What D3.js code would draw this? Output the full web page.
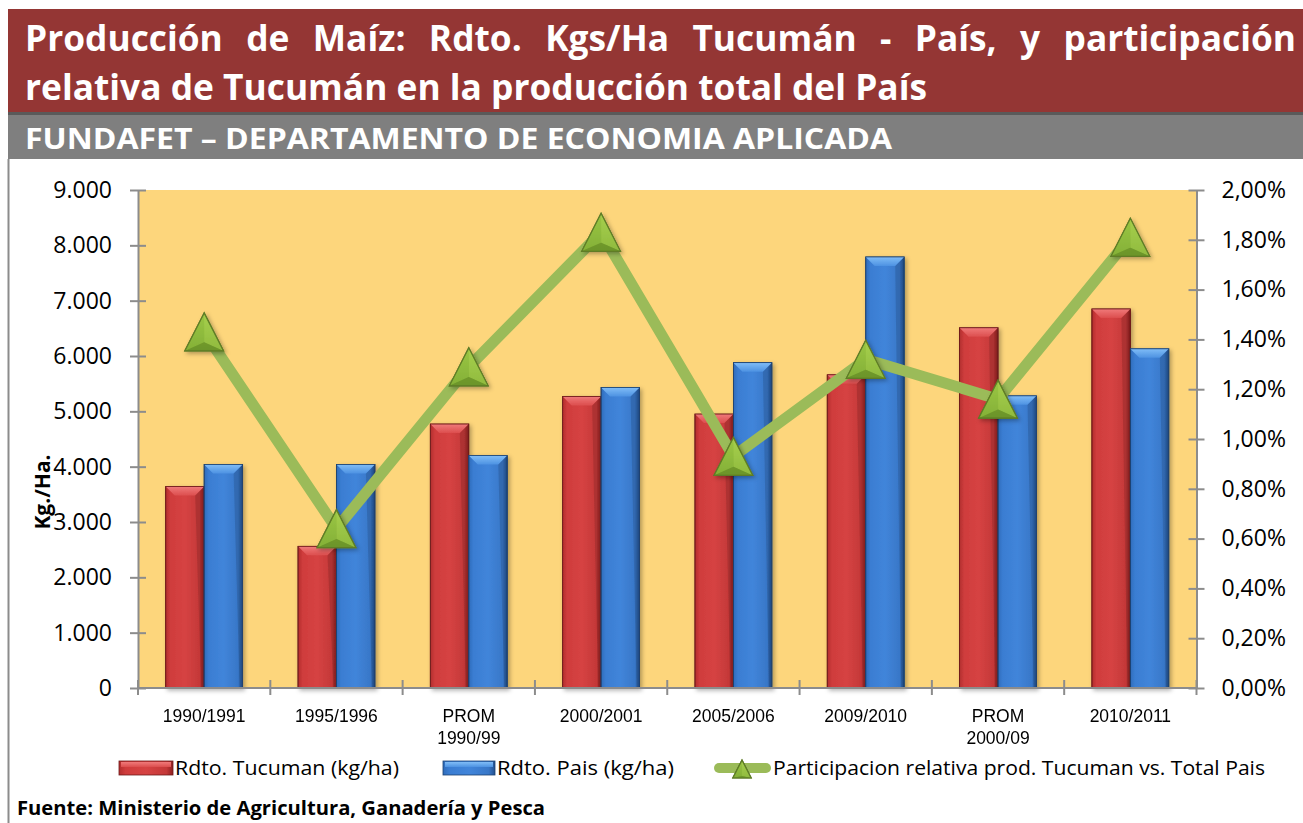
<!DOCTYPE html>
<html>
<head>
<meta charset="utf-8">
<script src="https://cdn.jsdelivr.net/npm/d3@7"></script>
<style>
  body { margin: 0; background: #fff; }
  svg { display: block; font-family: "Open Sans", "Noto Sans", sans-serif; }
</style>
</head>
<body>
<svg id="chart" width="1303" height="823"></svg>
<script>
// categories and values
var categories = ["1990/1991", "1995/1996", "PROM 1990/99", "2000/2001", "2005/2006", "2009/2010", "PROM 2000/09", "2010/2011"];
var rdtoTucuman = [3640, 2560, 4770, 5270, 4950, 5660, 6510, 6850];
var rdtoPais = [4040, 4040, 4200, 5430, 5880, 7790, 5280, 6130];
var participacion = [1.43, 0.64, 1.29, 1.83, 0.93, 1.32, 1.16, 1.81]; // percent
var leftTicks = [0, 1000, 2000, 3000, 4000, 5000, 6000, 7000, 8000, 9000];
var rightTicks = [0, 0.2, 0.4, 0.6, 0.8, 1.0, 1.2, 1.4, 1.6, 1.8, 2.0];
var seriesNames = ["Rdto. Tucuman (kg/ha)", "Rdto. Pais (kg/ha)", "Participacion relativa prod. Tucuman vs. Total Pais"];

var titleLine1 = "Producción de Maíz: Rdto. Kgs/Ha Tucumán - País, y participación";
var titleLine2 = "relativa de Tucumán en la producción total del País";
var subtitle = "FUNDAFET – DEPARTAMENTO DE ECONOMIA APLICADA";
var source = "Fuente: Ministerio de Agricultura, Ganadería y Pesca";

var esAR = d3.formatLocale({decimal: ",", thousands: ".", grouping: [3], currency: ["$", ""]});
var fmtKg = esAR.format(",d");
var fmtPct = esAR.format(".2f");

var svg = d3.select("#chart");
var defs = svg.append("defs");

function hGrad(id, stops) {
  var g = defs.append("linearGradient").attr("id", id).attr("x1", 0).attr("x2", 1).attr("y1", 0).attr("y2", 0);
  stops.forEach(function(s){ g.append("stop").attr("offset", s[0]).attr("stop-color", s[1]); });
}
function vGrad(id, stops) {
  var g = defs.append("linearGradient").attr("id", id).attr("x1", 0).attr("x2", 0).attr("y1", 0).attr("y2", 1);
  stops.forEach(function(s){ g.append("stop").attr("offset", s[0]).attr("stop-color", s[1]); });
}
hGrad("redBody", [[0, "#B22E2E"], [0.12, "#CF3C3C"], [0.5, "#D64343"], [0.88, "#C43838"], [1, "#8E2020"]]);
hGrad("blueBody", [[0, "#2F6CBB"], [0.12, "#3A7DD2"], [0.5, "#4185DA"], [0.88, "#3877C8"], [1, "#23508E"]]);
vGrad("redTop", [[0, "#F07A7A"], [1, "#DC4E4E"]]);
vGrad("blueTop", [[0, "#80BDF7"], [1, "#4D92E2"]]);
vGrad("greenTri", [[0, "#A6CF4A"], [1, "#6F9A2C"]]);

var shadow = defs.append("filter").attr("id", "shadow").attr("x", "-20%").attr("y", "-10%").attr("width", "150%").attr("height", "130%");
shadow.append("feDropShadow").attr("dx", 2).attr("dy", 2).attr("stdDeviation", 2).attr("flood-color", "#000").attr("flood-opacity", 0.3);

// ---- header bands
svg.append("rect").attr("x", 8).attr("y", 9).attr("width", 1303).attr("height", 103).attr("fill", "#943634");
svg.append("rect").attr("x", 8).attr("y", 112).attr("width", 1303).attr("height", 47).attr("fill", "#7F7F7F");
svg.append("rect").attr("x", 8).attr("y", 112).attr("width", 1303).attr("height", 3).attr("fill", "#5A5A5A");
svg.append("line").attr("x1", 8.5).attr("x2", 8.5).attr("y1", 159).attr("y2", 823).attr("stroke", "#8C8C8C").attr("stroke-width", 2);

// title: line 2 sets the horizontal squeeze, line 1 is justified word by word
var tFont = 35;
var line2 = svg.append("text").attr("x", 25).attr("y", 100).attr("fill", "#fff")
  .attr("font-weight", 700).attr("font-size", tFont).text(titleLine2);
var nat2 = line2.node().getComputedTextLength();
var squeeze = 902 / nat2;
line2.attr("textLength", 902).attr("lengthAdjust", "spacingAndGlyphs");

var words = titleLine1.split(" ");
var wEls = words.map(function(w){
  return svg.append("text").attr("y", 51).attr("fill", "#fff").attr("font-weight", 700).attr("font-size", tFont).text(w);
});
var widths = wEls.map(function(el){ return el.node().getComputedTextLength() * squeeze; });
var gap = (1296 - 25 - d3.sum(widths)) / (words.length - 1);
var cx = 25;
wEls.forEach(function(el, i){
  el.attr("x", cx).attr("textLength", widths[i]).attr("lengthAdjust", "spacingAndGlyphs");
  cx += widths[i] + gap;
});

svg.append("text").attr("x", 25).attr("y", 149).attr("fill", "#fff").attr("font-weight", 700)
  .attr("font-size", 28).attr("textLength", 867).attr("lengthAdjust", "spacingAndGlyphs").text(subtitle);

// ---- scales
var plot = {left: 138, right: 1196.5, top: 190, bottom: 688};
var x0 = d3.scaleBand().domain(categories).range([plot.left, plot.right]);
var x1 = d3.scaleBand().domain(["t", "p"]).range([0, x0.bandwidth()]).paddingInner(0).paddingOuter(0.72);
var yL = d3.scaleLinear().domain([0, 9000]).range([plot.bottom, plot.top]);
var yR = d3.scaleLinear().domain([0, 2]).range([plot.bottom, plot.top]);

svg.append("rect").attr("x", plot.left).attr("y", plot.top)
  .attr("width", plot.right - plot.left).attr("height", plot.bottom - plot.top).attr("fill", "#FDD67C");

// ---- bars
var barData = [];
categories.forEach(function(c, i){
  barData.push({cat: c, key: "t", v: rdtoTucuman[i]});
  barData.push({cat: c, key: "p", v: rdtoPais[i]});
});

function drawBevelBar(g, x, y, w, h, key) {
  var b = Math.min(9, h / 2);
  var red = key === "t";
  g.append("rect").attr("x", x).attr("y", y).attr("width", w).attr("height", h)
    .attr("fill", red ? "url(#redBody)" : "url(#blueBody)")
    .attr("stroke", red ? "#6E1A1A" : "#1D4272").attr("stroke-width", 0.8);
  g.append("path")
    .attr("d", "M" + x + "," + y + "L" + (x + w) + "," + y + "L" + (x + w - b) + "," + (y + b) + "L" + (x + b) + "," + (y + b) + "Z")
    .attr("fill", red ? "url(#redTop)" : "url(#blueTop)");
  g.append("path")
    .attr("d", "M" + (x + w) + "," + y + "L" + (x + w) + "," + (y + h) + "L" + (x + w - 3) + "," + (y + h) + "L" + (x + w - b) + "," + (y + b) + "Z")
    .attr("fill", "#000").attr("opacity", 0.12);
  g.append("rect").attr("x", x).attr("y", y).attr("width", w).attr("height", h)
    .attr("fill", "none").attr("stroke", red ? "#6E1A1A" : "#1D4272").attr("stroke-width", 0.8);
}

var bars = svg.append("g").attr("filter", "url(#shadow)");
barData.forEach(function(d){
  var bx = x0(d.cat) + x1(d.key);
  var by = yL(d.v);
  drawBevelBar(bars.append("g"), bx, by, x1.bandwidth(), plot.bottom - by, d.key);
});

// ---- axes
var axisColor = "#8C8C8C";
var gLeft = svg.append("g").attr("transform", "translate(" + plot.left + ",0)")
  .call(d3.axisLeft(yL).tickValues(leftTicks).tickFormat(fmtKg).tickSizeInner(8).tickSizeOuter(0).tickPadding(18));
gLeft.selectAll(".tick line").attr("x1", 8);
var gRight = svg.append("g").attr("transform", "translate(" + plot.right + ",0)")
  .call(d3.axisRight(yR).tickValues(rightTicks).tickFormat(function(v){ return fmtPct(v) + "%"; }).tickSizeInner(8).tickSizeOuter(0).tickPadding(17));
gRight.selectAll(".tick line").attr("x1", -8);
[gLeft, gRight].forEach(function(g){
  g.select(".domain").attr("stroke", axisColor).attr("stroke-width", 2);
  g.selectAll(".tick line").attr("stroke", axisColor).attr("stroke-width", 2);
  g.selectAll(".tick text").attr("font-size", 23).attr("fill", "#000").attr("font-family", "Open Sans");
});

var gBottom = svg.append("g").attr("transform", "translate(0," + plot.bottom + ")")
  .call(d3.axisBottom(x0).tickSize(0).tickPadding(0));
gBottom.select(".domain").remove();
gBottom.selectAll(".tick text").each(function(d){
  var t = d3.select(this).text(null).attr("font-size", 17.5).attr("fill", "#000").attr("y", 0).attr("dy", null);
  d.split(" ").forEach(function(part, i){
    t.append("tspan").attr("x", 0).attr("y", 34 + i * 22).text(part);
  });
});
gBottom.append("line").attr("x1", plot.left).attr("x2", plot.right).attr("y1", 0).attr("y2", 0)
  .attr("stroke", axisColor).attr("stroke-width", 2);
var bounds = categories.map(function(c){ return x0(c); }).concat([plot.right]);
gBottom.selectAll(".bnd").data(bounds).enter().append("line")
  .attr("x1", function(d){ return d; }).attr("x2", function(d){ return d; })
  .attr("y1", -8).attr("y2", 7).attr("stroke", axisColor).attr("stroke-width", 2);

// ---- participation line
var lineData = categories.map(function(c, i){ return {cat: c, v: participacion[i]}; });
var cxOf = function(d){ return x0(d.cat) + x0.bandwidth() / 2; };
svg.append("path").datum(lineData)
  .attr("d", d3.line().x(cxOf).y(function(d){ return yR(d.v); }))
  .attr("fill", "none").attr("stroke", "#9BBB59").attr("stroke-width", 11).attr("stroke-linejoin", "round");

function triangle(g, s) {
  var hw = s * 0.51, hh = s / 2, cy = hh / 3;
  var A = [0, -hh], L = [-hw, hh], R = [hw, hh], C = [0, cy + 4];
  function p(pts){ return "M" + pts.map(function(q){ return q.join(","); }).join("L") + "Z"; }
  g.append("path").attr("d", p([A, L, R])).attr("fill", "url(#greenTri)").attr("stroke", "#5E7C27").attr("stroke-width", 1.2);
  g.append("path").attr("d", p([A, L, C])).attr("fill", "#93BF3F").attr("opacity", 0.6);
  g.append("path").attr("d", p([A, R, C])).attr("fill", "#A7D14C").attr("opacity", 0.6);
  g.append("path").attr("d", p([L, R, C])).attr("fill", "#6B9329").attr("opacity", 0.7);
  g.append("path").attr("d", p([A, L, R])).attr("fill", "none").attr("stroke", "#5E7C27").attr("stroke-width", 1.2);
}
svg.append("g").attr("filter", "url(#shadow)").selectAll("g").data(lineData).enter().append("g")
  .attr("transform", function(d){ return "translate(" + cxOf(d) + "," + yR(d.v) + ")"; })
  .each(function(){ triangle(d3.select(this), 38); });

// ---- y label
svg.append("text").attr("transform", "translate(43,492) rotate(-90)").attr("text-anchor", "middle")
  .attr("dy", "0.35em").attr("font-weight", 700).attr("font-size", 21).text("Kg./Ha.");

// ---- legend
var lg = svg.append("g");
var legY = 768;
[["t", 119, 54], ["p", 443, 52]].forEach(function(s){
  var g = lg.append("g");
  var red = s[0] === "t";
  g.append("rect").attr("x", s[1]).attr("y", legY - 7).attr("width", s[2]).attr("height", 14)
    .attr("fill", red ? "url(#redBody)" : "url(#blueBody)").attr("stroke", red ? "#6E1A1A" : "#1D4272").attr("stroke-width", 0.8);
  g.append("rect").attr("x", s[1] + 2).attr("y", legY - 6).attr("width", s[2] - 4).attr("height", 5)
    .attr("fill", red ? "url(#redTop)" : "url(#blueTop)");
});
lg.append("line").attr("x1", 719).attr("x2", 766).attr("y1", legY).attr("y2", legY)
  .attr("stroke", "#9BBB59").attr("stroke-width", 10).attr("stroke-linecap", "round");
triangle(lg.append("g").attr("transform", "translate(742," + (legY + 1) + ")"), 18);
var legText = [[175, 224], [497, 177], [773, 492]];
seriesNames.forEach(function(n, i){
  lg.append("text").attr("x", legText[i][0]).attr("y", legY + 7).attr("font-size", 20)
    .attr("textLength", legText[i][1]).attr("lengthAdjust", "spacingAndGlyphs").text(n);
});

// ---- source
svg.append("text").attr("x", 17).attr("y", 815).attr("font-weight", 700).attr("font-size", 19)
  .attr("textLength", 528).attr("lengthAdjust", "spacingAndGlyphs").text(source);
</script>
</body>
</html>
